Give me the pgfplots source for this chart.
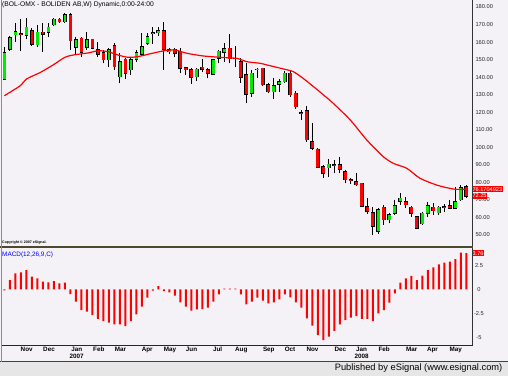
\documentclass[border=0pt]{standalone}
\usepackage{pgfplots}
\pgfplotsset{compat=1.18}
\usepackage{pgfplotstable}
\usepackage{fontspec}
\setmainfont{Liberation Sans}
\definecolor{bgc}{RGB}{244,242,246}
\definecolor{upc}{RGB}{0,235,0}
\definecolor{dnc}{RGB}{255,0,0}
\definecolor{band}{RGB}{230,230,230}

\pgfplotstableread{
i o h l c
0 138.8 157.4 138.8 154.0
1 155.9 163.5 155.0 162.5
2 164.2 171.1 160.3 165.8
4 163.9 173.6 161.6 168.4
6 158.4 169.8 157.4 165.6
8 165.6 170.7 163.1 168.4
9 169.8 173.6 169.2 173.0
11 171.7 176.8 170.7 175.5
13 157.0 162.7 152.7 161.2
15 157.0 166.0 155.5 161.2
19 149.8 156.5 146.0 155.5
21 140.3 153.6 136.5 148.9
23 144.1 150.8 141.3 149.8
24 150.2 155.5 148.9 154.0
25 153.2 165.0 152.1 157.4
26 159.3 165.0 158.4 163.1
27 164.8 168.4 158.9 165.3
28 165.2 168.8 163.5 166.3
30 154.5 156.5 153.2 155.5
35 140.3 145.0 138.0 144.5
38 141.8 150.2 141.3 149.8
39 150.8 155.5 147.9 154.7
40 154.2 159.7 148.9 156.1
45 130.8 144.1 128.9 142.2
46 144.1 145.0 139.4 144.6
49 131.8 139.4 127.4 135.0
50 136.1 138.8 131.8 137.4
51 137.5 143.7 136.5 142.2
59 88.4 93.2 83.3 90.3
68 52.0 65.3 50.5 64.5
70 58.6 62.4 56.7 61.5
71 62.4 70.0 61.5 66.6
72 69.3 74.2 67.2 71.0
76 56.3 63.4 55.8 62.4
77 62.4 69.1 60.5 66.6
79 62.8 66.6 61.5 65.8
82 65.3 77.6 64.7 69.1
83 70.0 78.6 69.4 77.0
}\upcandles

\pgfplotstableread{
i o h l c
3 164.8 173.0 155.1 164.4
5 166.5 167.9 158.0 158.9
7 165.6 170.7 154.2 164.6
10 173.0 173.6 171.1 171.7
12 175.5 176.8 155.5 160.8
14 162.2 163.1 151.7 154.2
16 161.6 161.8 155.9 156.5
17 155.5 160.3 151.3 153.2
18 154.0 155.5 147.9 149.8
20 157.8 159.3 144.1 146.0
22 150.2 150.8 138.8 142.2
29 166.3 171.7 144.1 155.9
31 155.9 156.5 151.7 153.6
32 154.6 156.5 142.2 145.0
33 145.4 146.0 141.3 144.1
34 144.1 145.0 136.1 139.9
36 145.6 150.2 143.1 144.5
37 144.1 145.0 139.4 142.2
41 156.5 164.6 147.9 150.4
42 150.8 157.8 146.0 150.4
43 148.9 150.8 136.9 139.9
44 141.3 147.9 125.1 130.4
47 145.0 145.2 135.0 135.6
48 135.6 136.5 130.8 131.8
52 142.2 143.7 128.9 129.9
53 130.8 132.3 121.7 123.2
54 119.6 121.3 115.6 119.2
55 120.7 123.6 103.3 104.2
56 103.3 113.7 98.5 99.5
57 98.9 99.5 88.1 88.6
58 89.0 90.0 82.4 85.2
60 90.1 92.8 85.2 89.7
61 89.9 94.7 85.2 87.5
62 86.2 86.9 79.5 81.4
63 81.6 82.4 79.1 81.2
64 80.5 85.6 78.0 78.6
65 79.5 79.9 65.8 66.4
66 66.2 70.9 62.0 63.7
67 62.8 66.0 50.1 55.0
69 65.8 67.1 55.8 58.6
73 69.1 71.5 65.3 67.2
74 65.8 66.6 60.5 62.4
75 60.5 60.9 53.3 53.9
78 65.8 68.5 61.5 63.9
80 66.0 67.7 63.4 65.6
81 66.6 70.0 64.7 65.3
84 77.6 78.6 71.3 72.25
}\downcandles

\pgfplotstableread{
x ma
0 129.4
2.85 135.0
4.07 139.0
6.5 142.6
8.9 147.0
11.0 151.3
12.5 152.6
15.6 154.0
17.0 155.1
18.9 154.5
20.7 152.6
22.5 151.3
24.3 151.7
26.9 153.6
29.2 155.1
31.0 155.5
33.2 153.6
36.1 152.1
39.2 151.3
42.3 150.7
44.1 148.8
46.5 147.9
47.7 147.0
50.7 144.7
52.5 143.2
54.3 139.4
56.8 133.1
59.8 125.1
62.9 115.6
65.9 104.2
68.9 94.7
70.7 90.9
73.2 88.0
75.6 82.3
78.6 78.5
81.0 76.6
82.3 76.0
84.0 76.17
}\matable

\pgfplotstableread{
i m
0 -0.1
1 0.97
2 1.66
3 1.77
4 2.01
5 1.32
6 1.14
7 0.80
8 0.73
9 0.86
10 0.62
11 0.69
12 -0.49
13 -1.29
14 -2.16
15 -2.33
16 -2.68
17 -3.09
18 -3.30
19 -3.48
20 -3.65
21 -3.65
22 -3.82
23 -3.30
24 -2.61
25 -1.81
26 -0.87
27 -0.14
28 0.34
29 -0.18
30 -0.32
31 -0.66
32 -1.36
33 -1.81
34 -2.22
35 -2.09
36 -2.05
37 -1.91
38 -1.29
39 -0.52
40 0.08
41 0.08
42 0.08
43 -0.52
44 -1.57
45 -1.29
46 -0.87
47 -1.18
48 -1.46
49 -1.36
50 -1.05
51 -0.52
52 -0.84
53 -1.36
54 -1.91
55 -3.02
56 -3.79
57 -4.76
58 -5.28
59 -4.93
60 -4.34
61 -3.65
62 -3.20
63 -2.95
64 -2.78
65 -3.09
66 -3.09
67 -3.30
68 -2.50
69 -2.16
70 -1.39
71 -0.42
72 0.69
73 1.14
74 1.39
75 0.97
76 1.42
77 2.01
78 2.29
79 2.60
80 2.77
81 2.88
82 3.16
83 3.82
84 3.76
}\macdtable

\pgfplotsset{
  candle/.style 2 args={draw=none, mark=none, forget plot,
    error bars/.cd, y dir=plus, y explicit, error mark=none,
    error bar style={draw=#1, line width=#2}},
}

\begin{document}
\begin{tikzpicture}[x=1pt,y=1pt]
\useasboundingbox (0,0) rectangle (508,376);
\fill[bgc] (0,0) rectangle (508,376);
\fill[band] (0,0) rectangle (508,14);
\draw[black!75, line width=1pt] (0,14.5) -- (508,14.5);

% main price panel
\begin{axis}[
  at={(2pt,376pt)}, anchor=north west,
  scale only axis, width=470pt, height=246pt,
  xmin=-0.42, xmax=85.04, ymin=43.73, ymax=183.98,
  axis line style={draw=none},
  major tick length=0pt,
  xtick=\empty,
  ytick={50,60,70,80,90,100,110,120,130,140,150,160,170,180},
  yticklabels={50.00,60.00,70.00,80.00,90.00,100.00,110.00,120.00,130.00,140.00,150.00,160.00,170.00,180.00},
  ytick pos=right, yticklabel pos=right,
  yticklabel style={font=\fontsize{5.7}{6}\selectfont, text=black!85, anchor=west, xshift=0pt},
  clip=false,
]
% wicks
\addplot[candle={black}{1pt}]
  table[x=i, y=l, y error expr=\thisrow{h}-\thisrow{l}] {\upcandles};
\addplot[candle={black}{1pt}]
  table[x=i, y=l, y error expr=\thisrow{h}-\thisrow{l}] {\downcandles};
% body outlines
\addplot[candle={black}{3.6pt}]
  table[x=i, y expr=\thisrow{o}-0.3, y error expr=\thisrow{c}-\thisrow{o}+0.6] {\upcandles};
\addplot[candle={black}{3.6pt}]
  table[x=i, y expr=\thisrow{c}-0.3, y error expr=\thisrow{o}-\thisrow{c}+0.6] {\downcandles};
% bodies
\addplot[candle={upc}{2.6pt}]
  table[x=i, y=o, y error expr=\thisrow{c}-\thisrow{o}] {\upcandles};
\addplot[candle={dnc}{2.6pt}]
  table[x=i, y=c, y error expr=\thisrow{o}-\thisrow{c}] {\downcandles};
% moving average
\addplot[red, line width=1.2pt, mark=none, smooth, tension=0.4] table[x=x, y=ma] {\matable};
% value boxes
\node[fill=red, text=white, inner sep=0.4pt, anchor=west, minimum height=5.6pt,
  font=\fontsize{5.6}{6}\selectfont] at (axis cs:85.04,76.17) {76.1704923};
\node[fill=red, text=white, inner sep=0.4pt, anchor=west, minimum height=5.6pt,
  font=\fontsize{5.6}{6}\selectfont] at (axis cs:85.04,72.25) {72.25};
\end{axis}

% MACD panel
\begin{axis}[
  at={(2pt,31pt)}, anchor=south west,
  scale only axis, width=470pt, height=98pt,
  xmin=-0.42, xmax=85.04, ymin=-5.80, ymax=4.41,
  axis line style={draw=none},
  major tick length=0pt,
  ytick={-5,-2.5,0,2.5}, yticklabels={-5,-2.5,0,2.5},
  ytick pos=right, yticklabel pos=right,
  yticklabel style={font=\fontsize{5.7}{6}\selectfont, text=black!85, anchor=center, xshift=7pt},
  xtick={4.07,8.13,13.16,17.18,21.13,25.98,30.13,34.04,38.8,43.09,48.09,51.95,56.04,61.09,64.95,69.07,74.07,77.85,82.09},
  xticklabels={Nov,Dec,{Jan\\2007},Feb,Mar,Apr,May,Jun,Jul,Aug,Sep,Oct,Nov,Dec,{Jan\\2008},Feb,Mar,Apr,May},
  xticklabel style={font=\bfseries\fontsize{6.3}{7.8}\selectfont, align=center, anchor=north, inner sep=1.5pt},
  clip=false,
]
\addplot[ybar, bar width=2pt, fill=red, draw=none, forget plot] table[x=i, y=m] {\macdtable};
\node[fill=red, text=white, inner sep=0.4pt, anchor=west, minimum height=5.6pt,
  font=\fontsize{5.6}{6}\selectfont] at (axis cs:85.04,3.76) {3.76};
\end{axis}

% frame lines
\draw[black!80, line width=1pt] (472.5,31) -- (472.5,376);
\draw[black!85, line width=1pt] (2,31) -- (472.5,31);
\draw[black!60!olive, line width=1.4pt] (0,129.2) -- (472.5,129.2);
\draw[black!45, line width=0.8pt] (1,14.5) -- (1,376);

% texts
\node[anchor=base west, inner sep=0, font=\fontsize{6.7}{7}\selectfont] at (2,369.7) {(BOL-OMX - BOLIDEN AB,W) Dynamic,0:00-24:00};
\node[anchor=base west, inner sep=0, font=\bfseries\fontsize{3.6}{4}\selectfont] at (2,132.3) {Copyright © 2007 eSignal.};
\node[anchor=base west, inner sep=0, text=blue, font=\fontsize{6.4}{7}\selectfont] at (2,120) {MACD(12,26,9,C)};
\node[anchor=base east, inner sep=0, font=\fontsize{9.3}{10}\selectfont] at (502.5,5.5) {Published by eSignal (www.esignal.com)};
\end{tikzpicture}
\end{document}
